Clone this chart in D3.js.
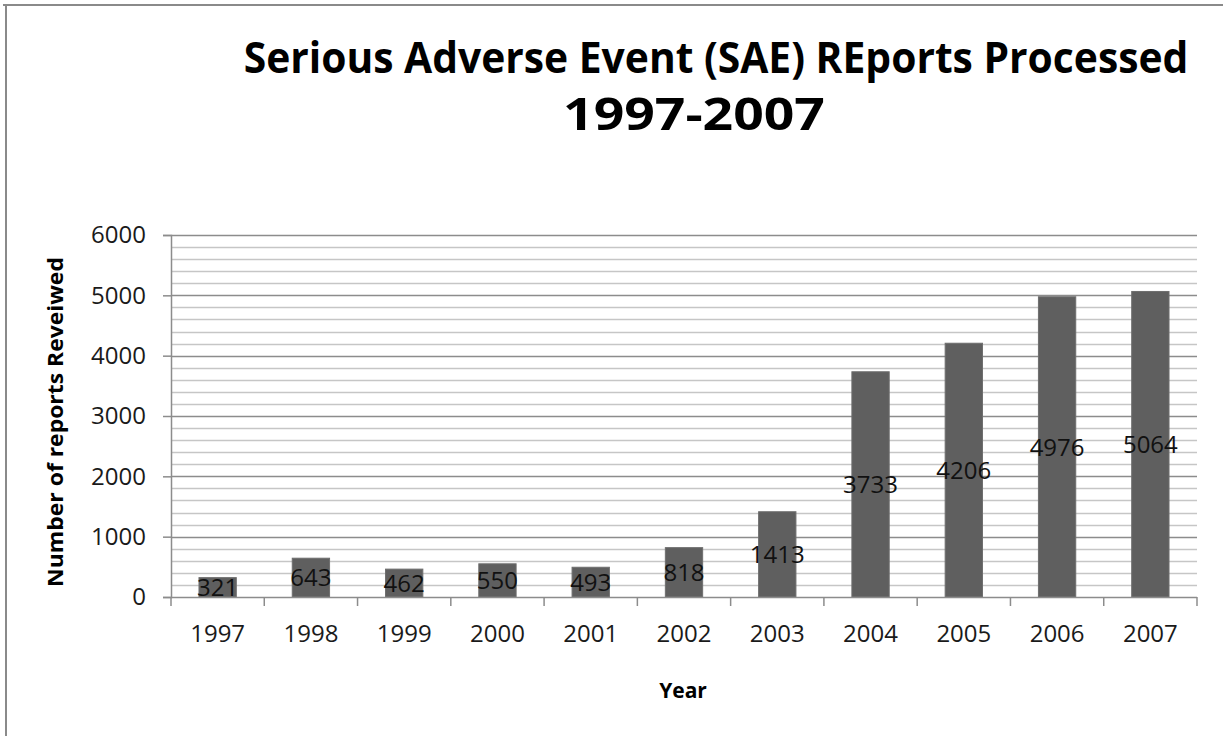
<!DOCTYPE html>
<html>
<head>
<meta charset="utf-8">
<script src="https://cdn.jsdelivr.net/npm/d3@7"></script>
<style>
    body { margin: 0; background: #fff; }
    svg { display: block; font-family: "Open Sans", sans-serif; }
</style>
</head>
<body>
<svg id="chart" width="1223" height="736"></svg>
<script>
// values
const years = ["1997", "1998", "1999", "2000", "2001", "2002", "2003", "2004", "2005", "2006", "2007"];
const reports = [321, 643, 462, 550, 493, 818, 1413, 3733, 4206, 4976, 5064];
const yMajorTicks = [0, 1000, 2000, 3000, 4000, 5000, 6000];
const titleLines = ["Serious Adverse Event (SAE) REports Processed", "1997-2007"];
const yTitle = "Number of reports Reveiwed";
const xTitle = "Year";

const svg = d3.select("#chart");
const margin = {left: 171, right: 1197, top: 235, bottom: 597};

// outer frame (only top and left edge are visible in the crop)
svg.append("line").attr("x1", 3).attr("x2", 1223).attr("y1", 5).attr("y2", 5)
    .attr("stroke", "#8a8a8a").attr("stroke-width", 2);
svg.append("line").attr("x1", 6).attr("x2", 6).attr("y1", 4).attr("y2", 736)
    .attr("stroke", "#8a8a8a").attr("stroke-width", 2);

const x = d3.scaleBand()
    .domain(years)
    .range([margin.left, margin.right])
    .paddingInner(0.6)
    .paddingOuter(0.3);

const y = d3.scaleLinear()
    .domain([0, 6000])
    .range([margin.bottom, margin.top]);

// minor gridlines every 200
const minor = d3.range(200, 6000, 200).filter(d => d % 1000 !== 0);
svg.append("g").selectAll("line")
    .data(minor)
    .join("line")
    .attr("x1", margin.left).attr("x2", margin.right)
    .attr("y1", d => Math.round(y(d)) + 0.5).attr("y2", d => Math.round(y(d)) + 0.5)
    .attr("stroke", "#c6c6c6").attr("stroke-width", 1.5);

// major gridlines
svg.append("g").selectAll("line")
    .data(yMajorTicks.filter(d => d > 0))
    .join("line")
    .attr("x1", margin.left).attr("x2", margin.right)
    .attr("y1", d => Math.round(y(d)) + 0.5).attr("y2", d => Math.round(y(d)) + 0.5)
    .attr("stroke", "#8c8c8c").attr("stroke-width", 1.5);

// bars
svg.append("g").selectAll("rect")
    .data(reports)
    .join("rect")
    .attr("x", (d, i) => x(years[i]))
    .attr("width", x.bandwidth())
    .attr("y", d => y(d))
    .attr("height", d => y(0) - y(d))
    .attr("fill", "#5f5f5f")
    .attr("stroke", "#6e6e6e")
    .attr("stroke-width", 1);

// y axis
const yAxis = d3.axisLeft(y).tickValues(yMajorTicks).tickFormat(d3.format("d")).tickSize(8).tickPadding(17);
const gy = svg.append("g").attr("transform", `translate(${margin.left},0)`).call(yAxis);
gy.select(".domain").attr("stroke", "#8c8c8c").attr("stroke-width", 1.5);
gy.selectAll(".tick line").attr("stroke", "#8c8c8c").attr("stroke-width", 1.5);
gy.selectAll(".tick text")
    .attr("font-size", 24).attr("fill", "#1a1a1a")
    .attr("font-family", "'Open Sans', sans-serif");

// x axis: labels at the centres, ticks on the category boundaries
const xAxis = d3.axisBottom(x).tickSize(0).tickPadding(28);
const gx = svg.append("g").attr("transform", `translate(0,${margin.bottom})`).call(xAxis);
gx.select(".domain").remove();
gx.selectAll(".tick text")
    .attr("font-size", 24).attr("fill", "#1a1a1a")
    .attr("font-family", "'Open Sans', sans-serif");

const step = x.step();
svg.append("line")
    .attr("x1", margin.left).attr("x2", margin.right)
    .attr("y1", margin.bottom + 0.5).attr("y2", margin.bottom + 0.5)
    .attr("stroke", "#8c8c8c").attr("stroke-width", 1.5);
svg.append("g").selectAll("line")
    .data(d3.range(years.length + 1))
    .join("line")
    .attr("x1", i => margin.left + i * step).attr("x2", i => margin.left + i * step)
    .attr("y1", margin.bottom).attr("y2", margin.bottom + 9)
    .attr("stroke", "#8c8c8c").attr("stroke-width", 1.5);

// value labels centred in the bars
svg.append("g").selectAll("text")
    .data(reports)
    .join("text")
    .attr("x", (d, i) => x(years[i]) + x.bandwidth() / 2)
    .attr("y", d => y(d / 2))
    .attr("dy", "0.36em")
    .attr("text-anchor", "middle")
    .attr("font-size", 24)
    .attr("fill", "#111")
    .text(d => d);

// fit a text horizontally to a given width (the original font has other proportions)
function fitText(sel, cx, cy, width, rotate) {
    let w = sel.node().getComputedTextLength();
    let k = width / w;
    sel.attr("text-anchor", "middle")
        .attr("transform", `translate(${cx},${cy})` + (rotate ? " rotate(-90)" : "") + ` scale(${k},1)`);
}

fitText(svg.append("text")
    .attr("font-size", 43).attr("font-weight", "bold")
    .text(titleLines[0]), 716, 73, 945);
fitText(svg.append("text")
    .attr("font-size", 45).attr("font-weight", "bold")
    .text(titleLines[1]), 694, 130, 262);

fitText(svg.append("text")
    .attr("font-size", 22).attr("font-weight", "bold")
    .text(yTitle), 63, 422, 330, true);

svg.append("text")
    .attr("x", 683).attr("y", 698)
    .attr("text-anchor", "middle")
    .attr("font-size", 21).attr("font-weight", "bold")
    .text(xTitle);
</script>
</body>
</html>
